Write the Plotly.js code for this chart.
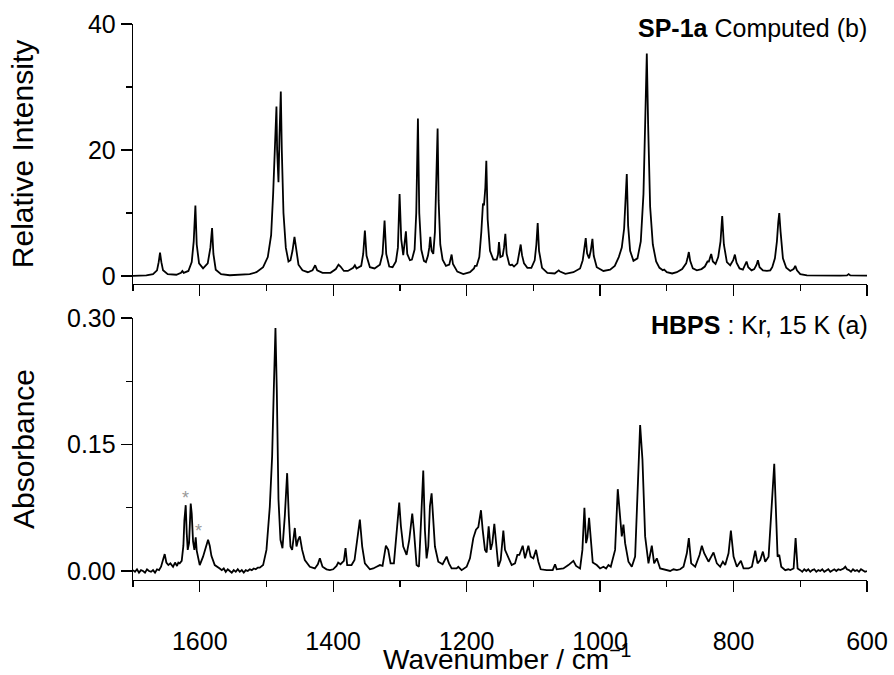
<!DOCTYPE html>
<html>
<head>
<meta charset="utf-8">
<script src="https://cdn.plot.ly/plotly-3.0.1.min.js"></script>
<style>html,body{margin:0;padding:0;background:#fff;}#chart{width:894px;height:675px;}</style>
</head>
<body>
<div id="chart"></div>
<script>
// Computed spectrum (top panel): wavenumber / relative intensity
const computedWn = [
  1700,1680,1670,1664,1661.5,1659.5,1657.5,1655,1648,
  1635,1628,1626,1624,1617,1612,1609,1606.5,1604.5,1601,
  1595,1588,1584,1581.5,1579.5,1576,1568,1555,1540,1525,
  1515,1505,1498,1493,1490,1487,1485,1484,1482,1480.5,1478.5,1477,1474.5,1471,
  1467,1464,1461,1458,1455.5,1452,1446,1438,1431,1427,1424,1416,
  1404,1396,1392,1389,1384,1378,1370,1367.5,1365,1358,1355,1352.5,1350,1345,
  1338,1330,1326,1323,1320.5,1316,1311,1306,1303,1300.5,1298,1295,1291,1289,1285,
  1282,1278,1275.5,1273,1271,1268,1264,1261,1258,1256,1254.5,1252.5,1250,
  1247.5,1245.5,1243.5,1242,1239.5,1236,1231,1226,1224,1222.5,1220.5,1214,1205,
  1195,1189,1187.5,1185,1181,1178,1175.5,1174,1172,1170.5,1168.5,1165,1160,
  1155,1153,1151.5,1149.5,1146,1144,1142,1140,1136,1134,1132,1129,
  1124,1121,1119,1117,1114,1109,1103,1098,1095.5,1093.5,1091.5,1087,1079,
  1068,1064,1062,1060,1052,1040,1030,1026,1023.5,1021.5,1019.5,1016.5,1014,1011.5,1009.5,1005,
  995,985,978,972,969,967.5,964,962,960,958,955,950,
  944,939,935,932.5,930,928,925,921,916,911,906,904,900,892,
  885,877,871,869,867,865,861,855,848,843,839,837,833.5,831,827,
  823,819.5,817,814.5,810,805,800.5,798,795.5,791,786,783,780.5,778,773,
  769,765.5,763.5,761,756,750,745,742,738,735,733,731.5,729.5,726,721,715,
  710,707.5,705,700,690,670,640,630,627.5,625,610,600
];
const computedIntensity = [
  0.02,0.1,0.3,0.9,2.2,3.7,2.2,0.9,0.3,
  0.2,0.5,0.8,0.5,0.8,2.2,5.5,11.2,5.0,2.0,
  1.2,2.0,4.5,7.6,3.5,1.0,0.3,0.12,0.15,0.3,
  0.6,1.4,3.0,6.5,13,22,26.9,20,14.9,22,29.3,20,10,4.5,
  2.3,2.5,4.0,6.2,4.0,1.8,0.9,0.6,0.9,1.7,0.9,0.5,
  0.5,1.1,1.8,1.5,0.8,0.8,1.3,1.7,1.2,1.6,3.5,7.2,3.2,1.4,
  1.2,1.8,3.5,8.8,3.5,1.5,1.4,2.3,4.5,13.0,5.8,3.3,7.1,3.5,2.5,
  2.6,4.2,10,25.0,10,4.2,2.4,2.2,3.2,4.5,6.2,4.0,3.5,
  7,14,23.4,12,5,2.6,1.6,1.8,2.6,3.4,1.9,0.7,0.3,
  0.6,1.2,1.6,1.6,3.0,7.0,11.5,11.2,14,18.3,9,4,2.6,
  2.6,3.4,5.4,3.0,3.2,4.5,6.7,3.5,1.8,1.7,1.8,1.5,
  2.0,3.5,5.0,3.3,2.0,1.3,1.3,2.5,5.0,8.4,4.0,1.3,0.5,
  0.4,0.7,0.9,0.7,0.35,0.6,1.2,2.5,4.5,6.0,3.6,2.8,4.0,5.9,3.2,1.4,
  0.8,1.0,1.6,3.0,4.0,4.5,7.5,11,16.2,8.0,4.0,2.4,
  2.8,5.5,13,24,35.3,24,11,5,2.3,1.3,0.9,1.0,0.6,0.4,
  0.6,1.1,2.0,2.8,3.8,2.4,1.2,0.9,1.1,1.5,2.3,2.3,3.5,2.3,1.9,
  3.0,5.5,9.5,5.0,2.2,1.7,2.5,3.4,2.1,1.2,1.0,1.6,2.3,1.4,0.9,
  1.1,1.8,2.5,1.4,0.9,0.8,0.9,1.4,2.8,5.5,8.5,10.0,7.0,2.8,1.3,0.8,
  1.1,1.6,0.9,0.3,0.1,0.05,0.05,0.1,0.3,0.1,0.05,0.05
];

// Experimental spectrum (bottom panel): wavenumber / absorbance
const measuredWn = [
  1700,1697,1694,1691,1688,1685,1682,1679,1676,1673,1670,1667,1664,1661,1658,1655,1652.5,1650,1647,1644,1640,1637,1634,1632,1630,
  1627,1624.5,1623,1621,1619.5,1618,1616,1615,1613.5,1612,1610,1608,1606,1604.5,1603.5,1600,
  1595,1591,1587.5,1585,1582.5,1577.5,1573,1570,1567,1564,1561,1558,1555,1552,1549,1546,1543,1540,1537,1534,1531,1528,1525,1522,1519,1516,1513,1510,
  1505,1500,1495,1491.5,1489,1486.5,1484.5,1482,1479,1476,1472.5,1469,1466.5,1464,1461.5,1457.5,1455,1452.5,1450,1446.5,1442.5,1435,
  1427.5,1423,1420,1416,1410,1405,1400,1395,1392.5,1389,1384,1381.5,1379,1372.5,1368,1363.5,1360,1356.5,1352.5,1345,1340,1335,1330,1326,
  1321,1317.5,1314,1309,1305,1301,1298.5,1295,1290,1286,1281.5,1279,1275,1271.5,1268.5,1265,1262.5,1260,1257.5,1255,1252.5,1250,1247.5,1242.5,
  1236,1230,1226.5,1222.5,1215,1212.5,1207.5,1200,1195,1190,1186,1182.5,1178.5,1176,1172.5,1170,1167,1164,1161.5,1158.5,1156,1152.5,1149,1145,1142.5,1137.5,
  1132.5,1127.5,1124,1121,1116,1112.5,1107.5,1104,1100,1096,1092.5,1089,1080,1071,1067.5,1065,1055,1047.5,1040,1036,1030,
  1026.5,1023.5,1021,1019,1016.5,1013.5,1011,1005,1000,995,991,987.5,984,977.5,973.5,970,967.5,965,962.5,957.5,952.5,947.5,
  944,940,936.5,932.5,927.5,922.5,919,915,910,905,900,895,890,885,880,875,870,867,863.5,857.5,851,847.5,844,841,837.5,830,
  825,820,816,812.5,807.5,804,800,795,789,785,777.5,772.5,767.5,764,760,756,752.5,747.5,744,739,736,734,731.5,728.5,722.5,
  718,715,712,710,707,704,700,697,694,691,688,685,682,679,676,673,670,667,664,661,658,655,652,649,646,643,640,637,635,632.5,630,
  627,624,621,618,615,612,609,606,603,600
];
const measuredAbs = [
  0.001,-0.001,0.002,-0.002,0.001,0.000,-0.002,0.002,0.000,-0.001,0.001,-0.002,0.002,0.001,0.005,0.012,0.020,0.010,0.007,0.009,0.005,0.010,0.006,0.010,0.009,
  0.012,0.030,0.060,0.078,0.045,0.025,0.033,0.060,0.080,0.068,0.035,0.025,0.040,0.024,0.019,0.007,
  0.017,0.028,0.037,0.030,0.018,0.007,0.005,0.003,0.001,0.003,-0.001,0.002,0.000,-0.002,0.001,-0.001,0.002,-0.001,0.001,-0.002,0.001,0.000,0.002,0.001,0.003,0.002,0.004,0.004,
  0.007,0.025,0.076,0.136,0.215,0.288,0.215,0.085,0.037,0.027,0.065,0.116,0.065,0.029,0.025,0.051,0.029,0.037,0.041,0.025,0.013,0.005,
  0.003,0.008,0.015,0.005,0.002,0.001,0.002,0.006,0.010,0.008,0.012,0.027,0.007,0.007,0.013,0.037,0.061,0.029,0.009,0.002,0.003,0.005,0.007,0.006,
  0.030,0.025,0.009,0.009,0.045,0.081,0.053,0.029,0.019,0.037,0.068,0.048,0.007,0.005,0.056,0.119,0.048,0.015,0.029,0.077,0.092,0.064,0.029,0.011,
  0.008,0.017,0.009,0.003,0.003,0.005,0.001,0.005,0.015,0.039,0.049,0.052,0.072,0.049,0.025,0.022,0.053,0.025,0.033,0.056,0.033,0.005,0.013,0.048,0.025,0.015,
  0.007,0.009,0.019,0.019,0.030,0.015,0.030,0.017,0.015,0.025,0.011,0.002,0.001,0.001,0.008,0.002,0.003,0.007,0.012,0.006,0.003,
  0.025,0.075,0.033,0.040,0.063,0.029,0.010,0.007,0.003,0.005,0.003,0.007,0.005,0.025,0.097,0.064,0.041,0.055,0.033,0.011,0.005,0.017,
  0.095,0.173,0.132,0.041,0.009,0.030,0.009,0.015,0.003,0.002,0.001,0.000,0.002,0.001,0.002,0.005,0.021,0.039,0.009,0.005,0.019,0.030,0.021,0.017,0.011,0.022,
  0.009,0.005,0.011,0.007,0.021,0.048,0.017,0.005,0.012,0.003,0.003,0.005,0.024,0.009,0.013,0.023,0.011,0.017,0.064,0.127,0.061,0.017,0.019,0.005,0.001,
  0.002,0.001,0.002,0.003,0.039,0.003,0.001,-0.001,0.002,0.000,0.002,-0.001,0.001,0.002,-0.001,0.001,0.000,0.002,-0.001,0.001,0.002,-0.001,0.001,0.002,0.000,0.002,0.001,0.002,0.003,0.005,0.002,
  0.001,-0.001,0.002,0.000,0.001,-0.001,0.002,0.000,-0.001,0.000
];

// Asterisk markers on the experimental spectrum
const starWn = [1621, 1602.5];
const starAbs = [0.086, 0.048];

const xTickVals = [1600, 1400, 1200, 1000, 800, 600];
const xTickText = ['1600', '1400', '1200', '1000', '800', '600'];

const FONT = 'Liberation Sans, Arial, Helvetica, sans-serif';
const lineStyle = {color: '#000', width: 1.8};

const traces = [
  {x: computedWn, y: computedIntensity, xaxis: 'x2', yaxis: 'y2', type: 'scatter', mode: 'lines', line: lineStyle, hoverinfo: 'skip'},
  {x: measuredWn, y: measuredAbs, xaxis: 'x', yaxis: 'y', type: 'scatter', mode: 'lines', line: lineStyle, hoverinfo: 'skip'}
];

const xBase = {
  range: [1700, 600], autorange: false,
  showline: true, linecolor: '#000', linewidth: 1.3,
  ticks: 'outside', ticklen: 11, tickwidth: 1.3, tickcolor: '#000',
  tickmode: 'array', tickvals: xTickVals, ticktext: xTickText,
  minor: {dtick: 100, tick0: 0, ticks: 'outside', ticklen: 6, tickwidth: 1.3, tickcolor: '#000', showgrid: false},
  showgrid: false, zeroline: false,
  tickfont: {family: FONT, size: 25, color: '#000'}
};

const layout = {
  width: 894, height: 675,
  margin: {l: 133, r: 27, t: 24, b: 95},
  paper_bgcolor: '#fff', plot_bgcolor: '#fff',
  showlegend: false,
  font: {family: FONT, color: '#000'},
  xaxis: Object.assign({}, xBase, {
    anchor: 'y', domain: [0, 1],
    ticklabelstandoff: 28
  }),
  xaxis2: Object.assign({}, xBase, {
    anchor: 'y2', domain: [0, 1], matches: 'x', showticklabels: false
  }),
  yaxis: {
    anchor: 'x', domain: [0, 0.4712],
    range: [-0.0107, 0.30], autorange: false,
    showline: true, linecolor: '#000', linewidth: 1.3,
    ticks: 'outside', ticklen: 11, tickwidth: 1.3, tickcolor: '#000',
    tick0: 0, dtick: 0.15, tickformat: '.2f',
    minor: {dtick: 0.075, tick0: 0, ticks: 'outside', ticklen: 6, tickwidth: 1.3, tickcolor: '#000', showgrid: false},
    showgrid: false, zeroline: false,
    tickfont: {family: FONT, size: 25, color: '#000'},
    title: {text: 'Absorbance', font: {family: FONT, size: 30, color: '#000'}, standoff: 23}
  },
  yaxis2: {
    anchor: 'x2', domain: [0.5324, 1],
    range: [-1.27, 40], autorange: false,
    showline: true, linecolor: '#000', linewidth: 1.3,
    ticks: 'outside', ticklen: 11, tickwidth: 1.3, tickcolor: '#000',
    tick0: 0, dtick: 20,
    minor: {dtick: 10, tick0: 0, ticks: 'outside', ticklen: 6, tickwidth: 1.3, tickcolor: '#000', showgrid: false},
    showgrid: false, zeroline: false,
    tickfont: {family: FONT, size: 25, color: '#000'},
    title: {text: 'Relative Intensity', font: {family: FONT, size: 30, color: '#000'}, standoff: 45}
  },
  annotations: [
    {text: 'Wavenumber / cm<sup>\u22121</sup>', xref: 'paper', yref: 'paper', x: 0.5089, y: -0.1385,
     xanchor: 'center', yanchor: 'middle', showarrow: false, font: {family: FONT, size: 28, color: '#000'}},
    {text: '<b>SP-1a</b> Computed (b)', xref: 'paper', yref: 'paper', x: 1.003, y: 0.993,
     xanchor: 'right', yanchor: 'middle', showarrow: false, font: {family: FONT, size: 25, color: '#000'}},
    {text: '<b>HBPS</b> : Kr, 15 K (a)', xref: 'paper', yref: 'paper', x: 1.004, y: 0.459,
     xanchor: 'right', yanchor: 'middle', showarrow: false, font: {family: FONT, size: 25, color: '#000'}}
  ].concat(starWn.map((w, i) => ({
    text: '*', xref: 'x', yref: 'y', x: w, y: starAbs[i], xanchor: 'center', yanchor: 'middle',
    showarrow: false, font: {family: FONT, size: 18, color: '#999'}
  })))
};

Plotly.newPlot('chart', traces, layout, {displayModeBar: false, staticPlot: true});
</script>
</body>
</html>
